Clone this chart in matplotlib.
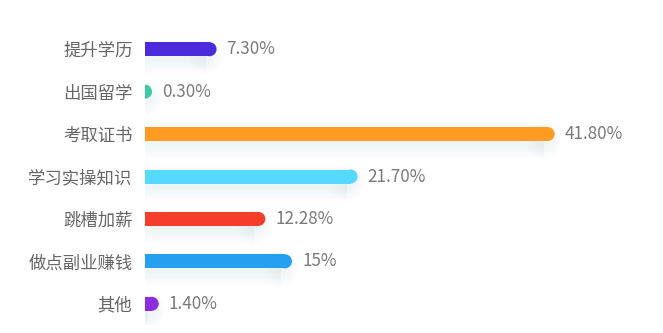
import matplotlib
matplotlib.use("Agg")
import matplotlib.pyplot as plt
from matplotlib.patches import Ellipse

plt.rcParams['font.family'] = ['Noto Sans CJK SC', 'DejaVu Sans']

categories = ["提升学历", "出国留学", "考取证书", "学习实操知识", "跳槽加薪", "做点副业赚钱", "其他"]
values = [7.30, 0.30, 41.80, 21.70, 12.28, 15.0, 1.40]
value_labels = ["7.30%", "0.30%", "41.80%", "21.70%", "12.28%", "15%", "1.40%"]
colors = ["#4B2BDB", "#3CC9A5", "#FF9A22", "#55D9FF", "#F53D2B", "#25A0EE", "#8C2EE0"]

W, H = 663, 333
fig = plt.figure(figsize=(W / 100, H / 100), dpi=100)
fig.patch.set_facecolor("white")
ax_w_px, ax_h_px = 490, 297
ax = fig.add_axes([145 / W, 8 / H, ax_w_px / W, ax_h_px / H])
XMAX = 50
ax.set_xlim(0, XMAX)
ax.set_ylim(len(categories) - 0.5, -0.5)
PXX = ax_w_px / XMAX
PXY = ax_h_px / len(categories)

BAR_PX = 14


def round_bar(y, v, h_px, color, alpha=1.0, dy_px=0.0, grow_px=0.0, z=3, clip=True):
    h = (h_px + 2 * grow_px) / PXY
    rx = (h_px / 2 + grow_px) / PXX
    yy = y + dy_px / PXY
    end = v + grow_px / PXX
    body = max(end - rx, 0)
    ax.barh([yy], [body], height=h, color=color, alpha=alpha, zorder=z, linewidth=0,
            clip_on=clip)
    ax.add_patch(Ellipse((body, yy), 2 * rx, h, facecolor=color, alpha=alpha,
                         zorder=z, linewidth=0, clip_on=clip))


for i, (v, c) in enumerate(zip(values, colors)):
    # soft shadow
    for k in range(8):
        round_bar(i, max(v - 0.6, 0), BAR_PX - 4, "#9aa6c4", alpha=0.012,
                  dy_px=7, grow_px=1.6 * k + 1, z=1)
    round_bar(i, v, BAR_PX, c, z=3)
    vis_end = max(v, (BAR_PX / 2) / PXX)
    ax.annotate(value_labels[i], xy=(vis_end, i), xytext=(7.2, 0), textcoords="offset points",
                ha="left", va="center", fontsize=12.3, color="#7a7a7a", zorder=4)

ax.set_yticks(range(len(categories)))
ax.set_yticklabels(categories, fontsize=12.5, color="#666666")
ax.tick_params(axis="y", length=0, pad=9)
ax.set_xticks([])
for s in ax.spines.values():
    s.set_visible(False)
ax.patch.set_alpha(0)

fig.savefig("out.png", dpi=100)
